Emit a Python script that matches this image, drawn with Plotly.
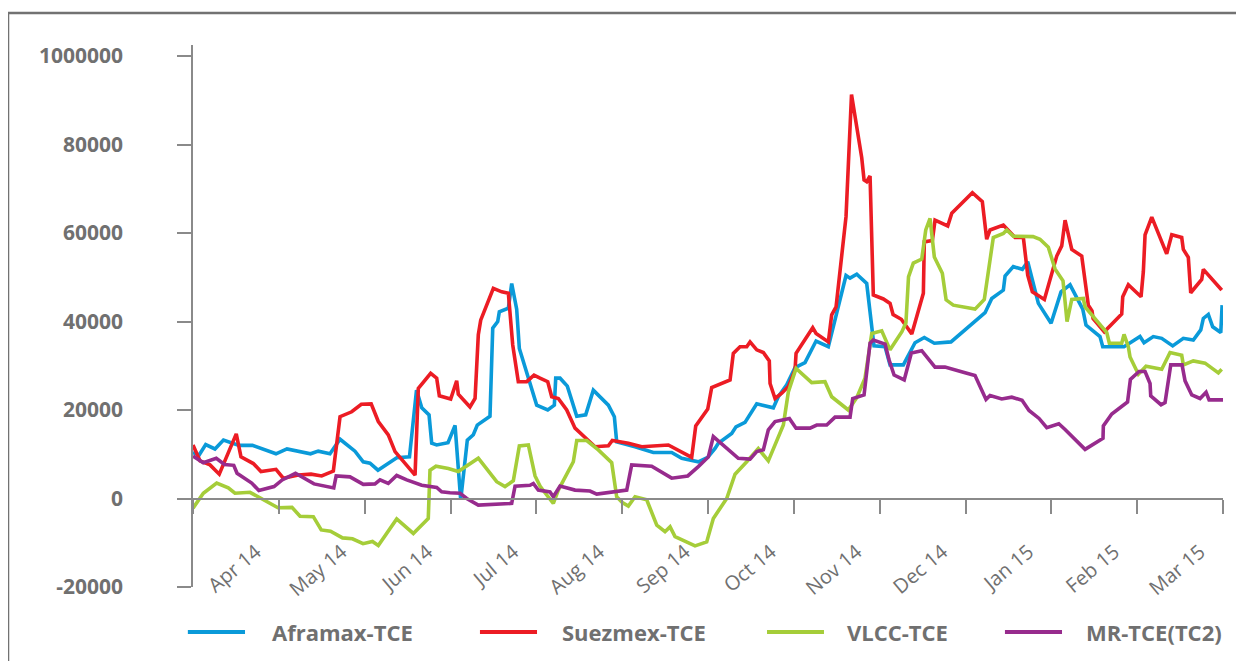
import plotly.graph_objects as go

# x = months since 1 Apr 2014 (evenly spaced month ticks), y = TCE in USD/day
months = ["Apr 14", "May 14", "Jun 14", "Jul 14", "Aug 14", "Sep 14",
          "Oct 14", "Nov 14", "Dec 14", "Jan 15", "Feb 15", "Mar 15"]

afra_x = [0.0, 0.07, 0.148, 0.256, 0.355, 0.536, 0.693, 0.967, 1.095, 1.369, 1.459, 1.596, 1.713, 1.887,
          1.983, 2.062, 2.155, 2.272, 2.374, 2.522, 2.604, 2.665, 2.75, 2.781, 2.839, 2.971, 3.053, 3.119,
          3.196, 3.266, 3.312, 3.46, 3.492, 3.55, 3.569, 3.674, 3.713, 3.771, 3.802, 4.004, 4.133, 4.21,
          4.226, 4.276, 4.361, 4.471, 4.575, 4.664, 4.839, 4.909, 4.936, 5.15, 5.363, 5.577, 5.694, 5.887,
          5.997, 6.082, 6.12, 6.276, 6.326, 6.431, 6.568, 6.761, 6.819, 6.917, 7.014, 7.13, 7.259, 7.402,
          7.608, 7.655, 7.733, 7.849, 7.934, 8.063, 8.121, 8.276, 8.412, 8.52, 8.637, 8.831, 9.228, 9.306,
          9.441, 9.461, 9.557, 9.662, 9.725, 9.849, 9.997, 10.113, 10.218, 10.366, 10.404, 10.567, 10.599,
          10.847, 11.033, 11.08, 11.188, 11.286, 11.414, 11.538, 11.654, 11.741, 11.771, 11.829, 11.88,
          11.974, 11.99]
afra_y = [10400, 9800, 12200, 11200, 13200, 12000, 12000, 10100, 11200, 10100, 10700, 10100, 13400, 10700,
          8300, 8000, 6400, 8000, 9200, 9400, 24500, 20500, 18900, 12500, 12100, 12600, 16500, -300,
          13200, 14400, 16600, 18600, 38500, 40000, 42200, 43000, 48600, 42800, 33900, 21100, 20000, 21100,
          27200, 27200, 25400, 18600, 18900, 24500, 21100, 18500, 12800, 11700, 10400, 10400, 9100, 8300,
          9300, 11300, 12500, 14700, 16200, 17200, 21400, 20500, 23000, 25700, 29600, 30700, 35600, 34300,
          50400, 49800, 50700, 48600, 34500, 34300, 30200, 30200, 35200, 36400, 35100, 35400, 42000, 45200,
          47100, 50300, 52400, 51800, 53500, 44100, 39600, 46700, 48300, 42800, 39200, 36600, 34300,
          34300, 36600, 35200, 36600, 36200, 34500, 36200, 35800, 38100, 40700, 41600, 38800,
          37500, 43700]

suez_x = [0.0, 0.082, 0.198, 0.306, 0.504, 0.559, 0.703, 0.792, 0.967, 1.052, 1.227, 1.375, 1.499, 1.635,
          1.713, 1.849, 1.961, 2.076, 2.159, 2.275, 2.354, 2.587, 2.625, 2.769, 2.839, 2.87, 3.002, 3.072,
          3.091, 3.227, 3.286, 3.324, 3.352, 3.499, 3.597, 3.674, 3.725, 3.79, 3.888, 3.973, 4.043, 4.133,
          4.179, 4.256, 4.354, 4.451, 4.684, 4.839, 4.885, 5.072, 5.228, 5.538, 5.81, 5.857, 5.997, 6.043,
          6.257, 6.295, 6.373, 6.451, 6.49, 6.568, 6.645, 6.714, 6.723, 6.781, 6.859, 6.936, 7.014, 7.026,
          7.22, 7.259, 7.402, 7.441, 7.492, 7.558, 7.608, 7.672, 7.791, 7.818, 7.849, 7.888, 7.926, 8.043,
          8.121, 8.156, 8.252, 8.374, 8.509, 8.52, 8.614, 8.645, 8.793, 8.84, 9.08, 9.196, 9.247, 9.286,
          9.441, 9.577, 9.674, 9.725, 9.779, 9.919, 10.063, 10.121, 10.16, 10.238, 10.354, 10.431, 10.474,
          10.486, 10.617, 10.82, 10.832, 10.897, 11.045, 11.072, 11.092, 11.17, 11.344, 11.403, 11.519,
          11.538, 11.596, 11.624, 11.752, 11.771, 11.985]
suez_y = [12100, 8500, 7600, 5500, 14600, 9400, 7900, 6100, 6600, 4600, 5300, 5500, 5100, 6200,
          18500, 19600, 21300, 21400, 17400, 14400, 10600, 5300, 24900, 28300, 27200, 23200, 22500, 26600,
          23600, 20700, 22600, 37000, 40300, 47500, 46700, 46400, 34700, 26400, 26400, 27900, 27200, 26400,
          23000, 22600, 20000, 15900, 11700, 11900, 13100, 12500, 11700, 12100, 9300, 16400, 20200, 25100,
          26800, 32800, 34300, 34300, 35400, 33600, 33000, 31100, 26000, 22600, 23800, 25300, 29000, 32800,
          38600, 37300, 35400, 41500, 43300, 54300, 63700, 91300, 77000, 72000, 71600, 72900, 46000, 45100,
          44100, 41600, 40500, 37200, 46400, 58000, 58300, 62900, 61600, 64500, 69100, 67100, 58600, 60700,
          61800, 59000, 59000, 50500, 46700, 45000, 54800, 57100, 62900, 56300, 54800, 43700, 42400,
          40700, 37700, 41700, 45600, 48300, 45600, 51300, 59600, 63600, 55300, 59600, 59000,
          56300, 54500, 46500, 49500, 51800, 47100]

vlcc_x = [0.0, 0.12, 0.276, 0.411, 0.489, 0.664, 0.99, 1.153, 1.247, 1.402, 1.494, 1.602, 1.742, 1.858,
          1.981, 2.091, 2.159, 2.373, 2.567, 2.741, 2.761, 2.831, 2.975, 3.091, 3.324, 3.538, 3.635, 3.732,
          3.802, 3.907, 3.985, 4.043, 4.101, 4.198, 4.256, 4.431, 4.471, 4.587, 4.722, 4.878, 4.936, 5.002,
          5.072, 5.15, 5.286, 5.403, 5.499, 5.558, 5.616, 5.849, 5.985, 6.062, 6.218, 6.315, 6.451, 6.586,
          6.703, 6.878, 6.936, 7.026, 7.208, 7.363, 7.441, 7.635, 7.733, 7.829, 7.908, 8.024, 8.121, 8.259,
          8.306, 8.336, 8.392, 8.49, 8.537, 8.587, 8.637, 8.73, 8.774, 8.858, 9.111, 9.219, 9.324, 9.441,
          9.48, 9.557, 9.787, 9.868, 9.965, 10.043, 10.136, 10.183, 10.238, 10.373, 10.393, 10.646, 10.676,
          10.82, 10.847, 10.897, 10.917, 11.014, 11.103, 11.286, 11.383, 11.519, 11.538, 11.654, 11.791,
          11.946, 11.985]
vlcc_y = [-2200, 1200, 3500, 2400, 1200, 1400, -2100, -2000, -4000, -4100, -7100, -7400, -8900, -9100,
          -10200, -9700, -10600, -4600, -7900, -4500, 6400, 7300, 6800, 6100, 9100, 3800, 2700, 4000,
          11900, 12100, 5100, 2800, 1300, -1100, 1900, 8300, 13100, 13100, 11000, 8100, 400, -900,
          -1700, 400, -300, -6000, -7500, -6400, -8600, -10700, -9800, -4500, 0, 5500, 8300, 11300,
          8500, 16600, 24100, 29400, 26200, 26400, 23000, 20000, 22800, 27200, 37300, 37900, 33600, 37700,
          39700, 50100, 53200, 54100, 60700, 63300, 54600, 50900, 44900, 43700, 42800, 45000, 59000, 59900,
          60700, 59300, 59200, 58600, 56800, 51900, 49200, 40000, 45000, 45200, 43300, 37500, 35100,
          35100, 37100, 34300, 32000, 28100, 29900, 29200, 33000, 32400, 30200, 31100, 30600,
          28400, 29200]

mr_x = [0.0, 0.12, 0.271, 0.367, 0.475, 0.513, 0.684, 0.767, 0.944, 1.039, 1.194, 1.41, 1.64, 1.668,
        1.829, 1.984, 2.12, 2.179, 2.275, 2.373, 2.49, 2.587, 2.665, 2.839, 2.897, 2.994, 3.111, 3.189,
        3.324, 3.713, 3.752, 3.926, 3.965, 4.023, 4.159, 4.198, 4.276, 4.451, 4.625, 4.704, 5.053, 5.111,
        5.344, 5.577, 5.764, 5.887, 6.004, 6.062, 6.218, 6.353, 6.49, 6.568, 6.645, 6.703, 6.781, 6.948,
        7.026, 7.189, 7.267, 7.383, 7.48, 7.655, 7.686, 7.818, 7.888, 7.926, 8.063, 8.11, 8.168, 8.286,
        8.369, 8.49, 8.645, 8.761, 8.995, 9.111, 9.239, 9.286, 9.422, 9.539, 9.659, 9.74, 9.857, 9.947,
        10.087, 10.16, 10.393, 10.602, 10.606, 10.704, 10.888, 10.921, 11.022, 11.092, 11.15, 11.158,
        11.278, 11.325, 11.391, 11.523, 11.558, 11.636, 11.733, 11.803, 11.838, 12.0]
mr_y = [9600, 8100, 9100, 7700, 7500, 5700, 3500, 1800, 2700, 4200, 5700, 3300, 2400, 5100,
        4900, 3200, 3300, 4200, 3400, 5200, 4200, 3500, 3000, 2500, 1500, 1300, 1200, 0,
        -1500, -1100, 2800, 3000, 3400, 1900, 1500, 400, 2800, 1900, 1700, 1000, 1900, 7600,
        7300, 4600, 5100, 7200, 9400, 14000, 11300, 9100, 8900, 10600, 11000, 15500, 17400, 18100,
        15900, 15900, 16600, 16600, 18400, 18400, 22600, 23400, 35100, 35800, 34900, 31300, 27900, 26800,
        32900, 33400, 29700, 29700, 28400, 27800, 22400, 23300, 22500, 22900, 22200, 19900, 18100, 16000,
        16900, 15600, 11100, 13600, 16400, 19100, 21800, 26900, 28700, 28700, 26000, 23200,
        21200, 21700, 30200, 30200, 26600, 23400, 22600, 24000, 22300, 22300]

series = [
    ("Aframax-TCE", afra_x, afra_y, "#0a9ad9"),
    ("Suezmex-TCE", suez_x, suez_y, "#ec1c24"),
    ("VLCC-TCE", vlcc_x, vlcc_y, "#a5cd39"),
    ("MR-TCE(TC2)", mr_x, mr_y, "#972b8d"),
]
# legend entry positions (paper coords): line start, line end, text start
legend_pos = [(-0.005, 0.0505, 0.0748), (0.2786, 0.334, 0.3563),
              (0.5573, 0.6126, 0.633), (0.7883, 0.8437, 0.865)]

grey = "#707070"
axis_grey = "#8a8a8a"

fig = go.Figure()
for name, xs, ys, col in series:
    fig.add_trace(go.Scatter(x=xs, y=ys, name=name, mode="lines",
                             line=dict(color=col, width=3.6), showlegend=False))

# legend drawn under the plot, spaced like the original
leg_y = -0.083
for (name, xs, ys, col), (lx0, lx1, tx) in zip(series, legend_pos):
    fig.add_shape(type="line", xref="paper", yref="paper", x0=lx0, x1=lx1, y0=leg_y, y1=leg_y,
                  line=dict(color=col, width=4))
    fig.add_annotation(xref="paper", yref="paper", x=tx, y=leg_y, text=name, showarrow=False,
                       xanchor="left", yanchor="middle",
                       font=dict(size=22, color=grey, weight="bold"))

# outer frame
fig.add_shape(type="rect", xref="paper", yref="paper",
              x0=-0.1796, x1=1.03, y0=-0.16, y1=1.059,
              line=dict(color="#727272", width=2.5), fillcolor="rgba(0,0,0,0)")

# margins allow for the 8px page margin of the html body
fig.update_layout(
    width=1244, height=661,
    margin=dict(l=185, r=29, t=37, b=82, autoexpand=False),
    paper_bgcolor="white", plot_bgcolor="white",
    font=dict(family="Open Sans", color=grey),
    showlegend=False,
    xaxis=dict(range=[0, 12], tickmode="array", tickvals=list(range(13)),
               ticktext=months + [""], anchor="free", position=20000 / 122500,
               showline=True, linecolor=axis_grey, linewidth=2,
               ticks="outside", ticklen=14, tickwidth=1.5, tickcolor=axis_grey,
               tickangle=-40, tickfont=dict(size=20, color=grey),
               ticklabelshift=63, ticklabelstandoff=19, automargin=False,
               showgrid=False, zeroline=False),
    yaxis=dict(range=[-20000, 102500], tickmode="array",
               tickvals=[-20000, 0, 20000, 40000, 60000, 80000, 100000],
               ticktext=["-20000", "0", "20000", "40000", "60000", "80000", "1000000"],
               showline=True, linecolor=axis_grey, linewidth=1.5,
               ticks="outside", ticklen=14, tickwidth=1.5, tickcolor=axis_grey,
               tickfont=dict(size=21, color=grey, weight="bold"), automargin=False,
               ticklabelstandoff=50, showgrid=False, zeroline=False),
)

fig.write_html("out.html")
